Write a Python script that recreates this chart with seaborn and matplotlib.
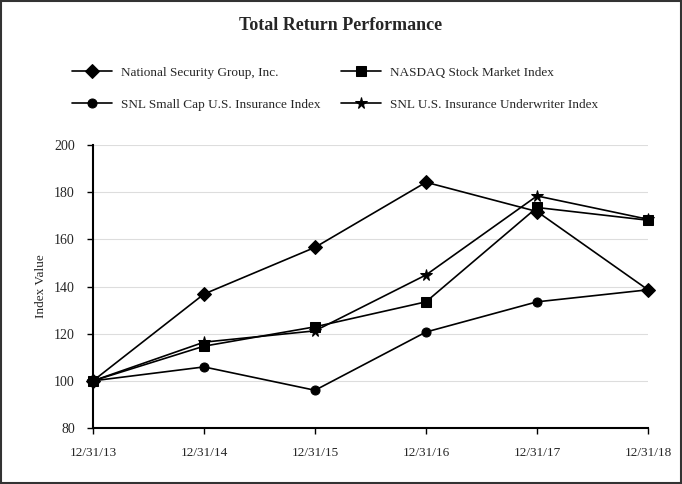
import matplotlib
matplotlib.use("Agg")
import matplotlib.pyplot as plt
import seaborn as sns
import pandas as pd
from matplotlib.patches import Rectangle

dates = ["12/31/13", "12/31/14", "12/31/15", "12/31/16", "12/31/17", "12/31/18"]
national = [100, 136.8, 156.6, 184.2, 171.8, 138.6]
nasdaq = [100, 114.7, 122.9, 133.5, 173.5, 168.1]
snl_small = [100, 105.9, 96.0, 120.7, 133.5, 138.6]
snl_under = [100, 116.4, 121.2, 144.9, 178.4, 168.5]

series_names = ["National Security Group, Inc.", "SNL Small Cap U.S. Insurance Index",
                "NASDAQ Stock Market Index", "SNL U.S. Insurance Underwriter Index"]
series_vals = [national, snl_small, nasdaq, snl_under]
markers = {"National Security Group, Inc.": "D",
           "SNL Small Cap U.S. Insurance Index": "o",
           "NASDAQ Stock Market Index": "s",
           "SNL U.S. Insurance Underwriter Index": "*"}
msizes = {"D": 6.8, "o": 6.5, "s": 7, "*": 8.5}

rows = []
for name, vals in zip(series_names, series_vals):
    for i, (d, v) in enumerate(zip(dates, vals)):
        rows.append({"pos": i, "date": d, "value": v, "series": name})
df = pd.DataFrame(rows)

sns.set_theme(style="white")
plt.rcParams["font.family"] = ["Liberation Serif", "DejaVu Serif"]

fig = plt.figure(figsize=(6.82, 4.84), dpi=100)
ax = fig.add_axes([93/682, 1-428/484, (648-93)/682, (428-145)/484])

for name in series_names:
    sub = df[df["series"] == name]
    m = markers[name]
    sns.lineplot(data=sub, x="pos", y="value", ax=ax, color="black", linewidth=1.2,
                 marker=m, markersize=msizes[m], markeredgecolor="black",
                 markerfacecolor="black", label=name, zorder=3, clip_on=False)

ax.set_xlim(0, 5)
ax.set_ylim(80, 200)
ax.set_xticks(range(len(dates)))
ax.set_xticklabels(dates, fontsize=9.5)
ax.set_yticks(range(80, 201, 20))
ax.tick_params(axis="y", labelsize=10, length=4, width=1, color="black", direction="out", left=True, pad=9)
ax.tick_params(axis="x", length=4.5, width=1, color="black", direction="out", bottom=True, pad=9.5)
ax.yaxis.grid(True, color="#dddddd", linewidth=0.8)
ax.xaxis.grid(False)
for s in ["top", "right"]:
    ax.spines[s].set_visible(False)
for s in ["left", "bottom"]:
    ax.spines[s].set_color("black")
    ax.spines[s].set_linewidth(1.5)
ax.set_xlabel("")
ax.set_ylabel("Index Value", fontsize=9.5, labelpad=5)

ax.legend(loc="lower left", bbox_to_anchor=(72/682, 1-111/484), bbox_transform=fig.transFigure,
          ncol=2, frameon=False, fontsize=9.5, handlelength=3.0, handletextpad=0.7,
          columnspacing=1.6, labelspacing=1.5, borderaxespad=0, borderpad=0)

fig.text(0.5, 1-26/484, "Total Return Performance", ha="center", va="center",
         fontsize=13, fontweight="bold")

fig.patches.append(Rectangle((0.002, 0.002), 0.996, 0.996, transform=fig.transFigure,
                             fill=False, edgecolor="#333333", linewidth=1.5))

fig.savefig("out.png", dpi=100)
